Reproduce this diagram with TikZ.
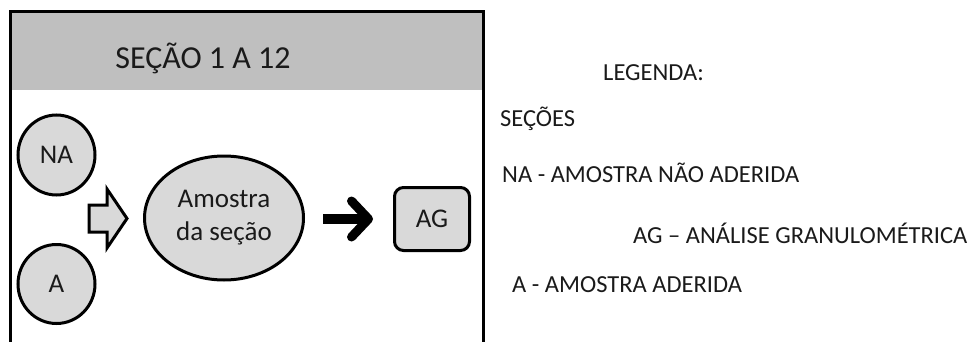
\documentclass[tikz,border=0pt]{standalone}
\usepackage{fontspec}
\setmainfont{Carlito}
\usetikzlibrary{shapes.geometric,arrows.meta,calc}
\definecolor{hdr}{HTML}{BFBFBF}
\definecolor{shp}{HTML}{D9D9D9}
\definecolor{txt}{HTML}{1A1A1A}
\tikzset{
  shapeline/.style={draw=black, line width=3pt, fill=shp, text=txt},
  roundnode/.style={shapeline, ellipse, inner sep=0pt, font=\fontsize{27}{31}\selectfont},
  agbox/.style={shapeline, rectangle, rounded corners=9pt, inner sep=0pt, font=\fontsize{27}{31}\selectfont},
  legtext/.style={anchor=west, inner sep=0pt, text=txt, font=\fontsize{24.5}{29}\selectfont},
  hollowarrow/.style={draw=black, line width=3pt, fill=shp, line join=miter},
  blackarrow/.style={draw=black, line width=10pt, -{Straight Barb[length=17pt,width=36pt,line width=9pt,round]}}
}
\begin{document}
\begin{tikzpicture}[x=1pt,y=-1pt]
\useasboundingbox (0,0) rectangle (973,342);
% header band and frame
\fill[hdr] (10,12) rectangle (483,90);
\draw[line width=3pt, line join=miter] (10,342) -- (10,12) -- (483,12) -- (483,342);
\node[text=txt, font=\fontsize{32}{38}\selectfont, inner sep=0pt] (title) at (203,58) {SEÇÃO 1 A 12};
% nodes
\node[roundnode, minimum width=77pt, minimum height=80pt] (na) at (56.5,155) {NA};
\node[roundnode, minimum width=77pt, minimum height=79pt] (a) at (56.5,284) {A};
\node[roundnode, minimum width=159pt, minimum height=124pt, align=center, font=\fontsize{27}{33}\selectfont] (ell) at (224,218) {Amostra\\da seção};
\node[agbox, minimum width=75pt, minimum height=63pt] (ag) at (432,219) {AG};
% hollow arrow
\draw[hollowarrow] (89,205) -- (107,205) -- (107,189) -- (127,218.5) -- (107,248) -- (107,232) -- (89,232) -- cycle;
% black arrow
\draw[blackarrow, shorten <=18pt, shorten >=20pt] (ell.east |- ag.west) -- (ag.west);
% legend
\node[legtext] (leg) at (603,73) {LEGENDA:};
\node[legtext] (l1) at (500,119) {SEÇÕES};
\node[legtext] (l2) at (502,173) {NA - AMOSTRA NÃO ADERIDA};
\node[legtext] (l3) at (633,233) {AG – ANÁLISE GRANULOMÉTRICA};
\node[legtext] (l4) at (512,285) {A - AMOSTRA ADERIDA};
\end{tikzpicture}
\end{document}
